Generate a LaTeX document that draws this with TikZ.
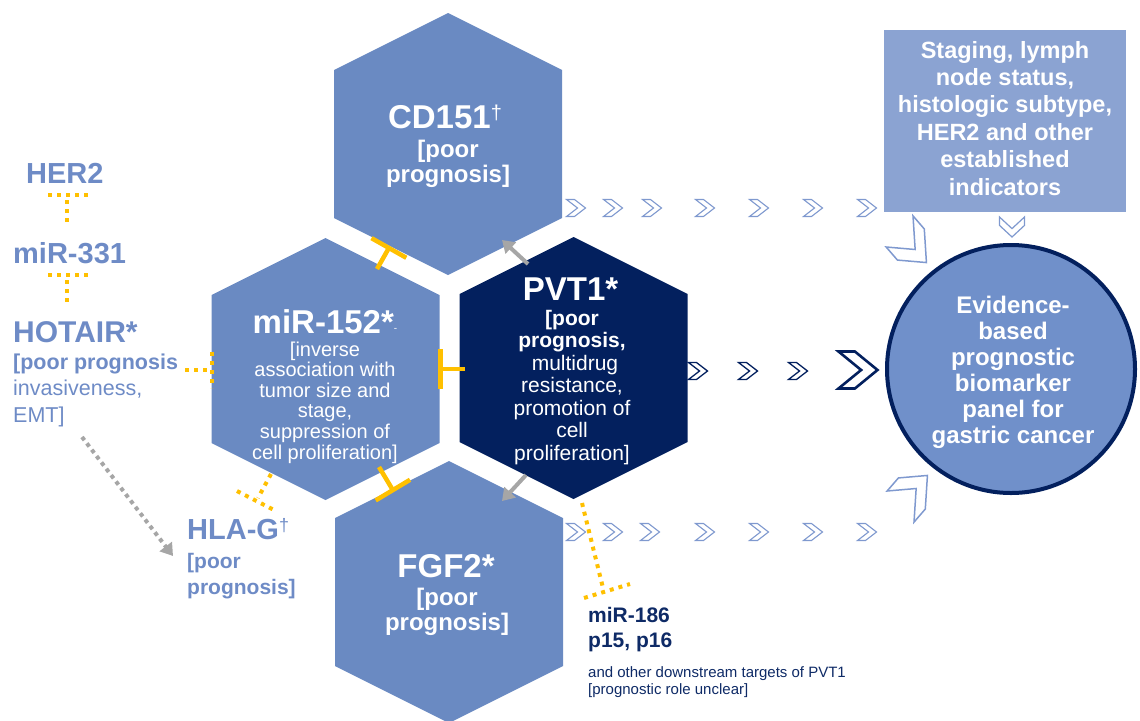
\documentclass[tikz,border=0pt]{standalone}
\usepackage{fontspec}
\setmainfont{Liberation Sans}
\usetikzlibrary{arrows.meta}
\definecolor{hexblue}{HTML}{6A8AC2}
\definecolor{navy}{HTML}{03205E}
\definecolor{boxblue}{HTML}{8BA3D2}
\definecolor{circblue}{HTML}{7090CA}
\definecolor{txtblue}{HTML}{6E8BC6}
\definecolor{darktxt}{HTML}{0E2A66}
\definecolor{chevblue}{HTML}{7F99CF}
\definecolor{gold}{HTML}{FFC000}
\definecolor{arrowgray}{HTML}{A6A6A6}
\newcommand\mychev[3]{\path[shift={(#1,#2)},#3] (-0.5,-0.5) -- (-0.08,-0.5) -- (0.5,0) -- (-0.08,0.5) -- (-0.5,0.5) -- (0.08,0) -- cycle;}
\newcommand\myhex[2]{\fill[#2,shift={(#1)}] (-114,-74) -- (0,-131) -- (114,-74) -- (114,74) -- (0,131) -- (-114,74) -- cycle;}
\newcommand\fs[2]{\fontsize{#1}{#2}\selectfont}
\begin{document}
\begin{tikzpicture}[x=1pt,y=-1pt,
  htitle/.style={font=\fs{33}{36}\bfseries, text=white, inner sep=0pt, anchor=base},
  hbodyb/.style={font=\fs{24}{25}\bfseries, text=white, align=center, inner sep=0pt, anchor=base},
  ltitle/.style={font=\fs{29}{32}\bfseries, text=txtblue, inner sep=0pt, anchor=base west},
  inhib/.style={draw=gold, line width=4.5pt, -{Bar[width=40pt]}},
  dotT/.style={draw=gold, line width=4pt, dash pattern=on 4pt off 5pt},
  garrow/.style={draw=arrowgray, line width=4pt, -{Triangle[length=12pt,width=15pt]}},
  smallchev/.style={draw=chevblue, fill=white, line width=1.1pt, xscale=19, yscale=17},
  navychev/.style={draw=navy, fill=white, line width=1.3pt, xscale=19, yscale=17},
  bignavychev/.style={draw=navy, fill=white, line width=2.6pt, xscale=39, yscale=37},
  bigbluechev/.style={draw=chevblue, fill=white, line width=1.5pt, xscale=38, yscale=44},
]
\useasboundingbox (0,0) rectangle (1140,720);

% hexagon centres
\coordinate (cd) at (448,144);
\coordinate (mi) at (325.5,369);
\coordinate (pv) at (573.5,368);
\coordinate (fg) at (449,592);
\myhex{cd}{hexblue}
\myhex{mi}{hexblue}
\myhex{pv}{navy}
\myhex{fg}{hexblue}

% hexagon texts (multi-line nodes: base = last line)
\node[htitle] (cdT) at (445,128) {CD151\raisebox{9pt}{\fs{20}{20}\mdseries †}};
\node[hbodyb] (cdB) at (448,182) {{[}poor\\prognosis{]}};

\node[htitle] (miT) at (325,333) {miR-152*\raisebox{2pt}{\fs{10}{10}\mdseries -}};
\node[font=\fs{20}{20.6}, text=white, align=center, inner sep=0pt, anchor=base] (miB) at (325,459)
  {{[}inverse\\association with\\tumor size and\\stage,\\suppression of\\cell proliferation{]}};

\node[htitle] (pvT) at (570.5,300) {PVT1*};
\node[font=\fs{21}{22.5}, text=white, align=center, inner sep=0pt, anchor=base] (pvB) at (572,460)
  {\textbf{{[}poor}\\\textbf{prognosis,}\\\hspace*{6pt}multidrug\\resistance,\\promotion of\\cell\\proliferation{]}};

\node[htitle] (fgT) at (446,577) {FGF2*};
\node[hbodyb] (fgB) at (447,630) {{[}poor\\prognosis{]}};

% left texts
\node[ltitle] (her2) at (26,183) {HER2};
\node[ltitle] (m331) at (13,263) {miR-331};
\node[ltitle, font=\fs{30}{32}\bfseries] (hot) at (13,342) {HOTAIR*};
\node[font=\fs{21.5}{26.5}, text=txtblue, align=left, inner sep=0pt, anchor=base west] (hotB) at (13,422)
  {\textbf{{[}poor prognosis}\\invasiveness,\\EMT{]}};

\node[ltitle] (hla) at (187,539) {HLA-G\raisebox{8pt}{\fs{18}{18}\mdseries †}};
\node[font=\fs{21}{26}\bfseries, text=txtblue, align=left, inner sep=0pt, anchor=base west] (hlaB) at (187,594)
  {{[}poor\\prognosis{]}};

% downstream targets
\node[font=\fs{21}{25}\bfseries, text=darktxt, align=left, inner sep=0pt, anchor=base west] (m186) at (588,647)
  {miR-186\\p15, p16};
\node[font=\fs{15}{17}, text=darktxt, align=left, inner sep=0pt, anchor=base west] (m186B) at (588,694)
  {and other downstream targets of PVT1\\{[}prognostic role unclear{]}};

% right box and circle
\node[fill=boxblue, minimum width=242pt, minimum height=182pt, inner sep=0pt] (box) at (1005,121) {};
\node[font=\fs{23.5}{27.4}\bfseries, text=white, align=center, inner sep=0pt, anchor=base] (boxT) at (1005,195)
  {Staging, lymph\\node status,\\histologic subtype,\\HER2 and other\\established\\indicators};
\node[circle, draw=navy, line width=4pt, fill=circblue, minimum size=248pt, inner sep=0pt] (circ) at (1011,369) {};
\node[font=\fs{24}{26}\bfseries, text=white, align=center, inner sep=0pt, anchor=base] (circT) at (1013,443)
  {Evidence-\\based\\prognostic\\biomarker\\panel for\\gastric cancer};

% solid inhibition bars
\coordinate (a1) at (377,269); \coordinate (b1) at (390,246);
\draw[inhib] (a1) -- (b1);
\coordinate (a2) at (465,369); \coordinate (b2) at (438,369);
\draw[inhib] (a2) -- (b2);
\coordinate (a3) at (379,467); \coordinate (b3) at (394,492);
\draw[inhib] (a3) -- (b3);

% dotted inhibition bars
\coordinate (h1) at (48,195); \coordinate (h2) at (88,195);
\coordinate (h3) at (67,200); \coordinate (h4) at (67,224);
\draw[dotT] (h1) -- (h2); \draw[dotT] (h3) -- (h4);
\coordinate (m1) at (48,275); \coordinate (m2) at (88,275);
\coordinate (m3) at (67,280); \coordinate (m4) at (67,304);
\draw[dotT] (m1) -- (m2); \draw[dotT] (m3) -- (m4);
\coordinate (o1) at (185,370); \coordinate (o2) at (209,370);
\coordinate (o3) at (212,352); \coordinate (o4) at (212,388);
\draw[dotT] (o1) -- (o2); \draw[dotT] (o3) -- (o4);
\coordinate (g1) at (271,474); \coordinate (g2) at (258,498);
\coordinate (g3) at (237,491); \coordinate (g4) at (274,510);
\draw[dotT] (g1) -- (g2); \draw[dotT] (g3) -- (g4);
\coordinate (p1) at (582,503); \coordinate (p2) at (603,588);
\coordinate (p3) at (584,598); \coordinate (p4) at (630,584);
\draw[dotT] (p1) -- (p2); \draw[dotT] (p3) -- (p4);

% gray arrows
\coordinate (r1) at (528,264); \coordinate (r2) at (502,240);
\draw[garrow] (r1) -- (r2);
\coordinate (r3) at (526,475); \coordinate (r4) at (502,501);
\draw[garrow] (r3) -- (r4);
\coordinate (s1) at (82,437); \coordinate (s2) at (173,556);
\draw[garrow, dash pattern=on 4pt off 4pt] (s1) -- (s2);

% chevron rows
\foreach \x in {576,613,652,705,759,813,867} {\mychev{\x}{208}{smallchev}}
\foreach \x in {576,613,650,705,759,813,867} {\mychev{\x}{532}{smallchev}}
\foreach \x in {698,748,798} {\mychev{\x}{371}{navychev}}
\mychev{858}{370}{bignavychev}
\mychev{1012}{227}{draw=chevblue, fill=white, line width=1.2pt, rotate=-90, xscale=20, yscale=25}
\mychev{913}{247}{bigbluechev, rotate=-45}
\mychev{914}{491}{bigbluechev, rotate=45}
\end{tikzpicture}
\end{document}
